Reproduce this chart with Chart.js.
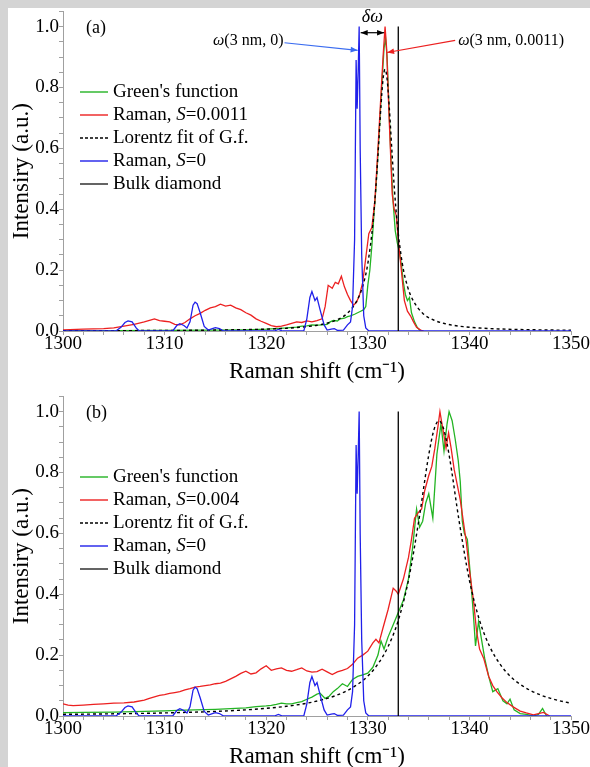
<!DOCTYPE html>
<html>
<head>
<meta charset="utf-8">
<script src="https://cdn.jsdelivr.net/npm/chart.js@4.4.1/dist/chart.umd.min.js"></script>
<style>
  html, body { margin: 0; padding: 0; }
  body { width: 590px; height: 767px; background: #d4d4d4; position: relative; overflow: hidden; }
  #sheet { position: absolute; left: 8px; top: 8px; right: 0; bottom: 0; background: #fff; }
  canvas { position: absolute; left: 0; }
  #chartA { top: 0; }
  #chartB { top: 385px; }
</style>
</head>
<body>
<div id="sheet"></div>
<canvas id="chartA" width="590" height="386"></canvas>
<canvas id="chartB" width="590" height="386"></canvas>
<script>
// tick labels
const xTickValues = [1300, 1310, 1320, 1330, 1340, 1350];
const yTickValues = [0, 0.2, 0.4, 0.6, 0.8, 1.0];

// Raman, S=0 (same in both panels)
const ramanS0_x = [1300,1305.2,1305.7,1306.1,1306.4,1306.8,1307.2,1307.5,1310.8,1311.2,1311.5,1311.9,1312.2,1312.5,1312.8,1313.0,1313.2,1313.5,1313.9,1314.3,1314.7,1315.0,1315.4,1315.8,1320.8,1321.2,1321.6,1323.7,1324.0,1324.3,1324.5,1324.8,1325.0,1325.3,1325.7,1326.0,1326.4,1326.7,1327.0,1327.6,1328.0,1328.3,1328.5,1328.7,1328.85,1328.95,1329.05,1329.15,1329.25,1329.4,1329.6,1329.8,1330.1,1350];
const ramanS0_y = [0,0,0.012,0.028,0.033,0.03,0.01,0,0,0.018,0.024,0.018,0.01,0.03,0.085,0.095,0.09,0.06,0.015,0.003,0.008,0.011,0.008,0,0,0.005,0,0,0.04,0.11,0.13,0.1,0.11,0.07,0.02,0.003,0.006,0.008,0.002,0.003,0.02,0.03,0.08,0.3,0.89,0.73,0.85,1.0,0.6,0.25,0.05,0.01,0,0];

// bulk diamond line
const bulk_x = [1333, 1333];
const bulk_y = [0, 1];

// panel (a)
const gfA_x = [1300,1305,1310,1315,1318,1320,1321,1322,1323,1323.5,1324,1324.5,1325,1325.5,1326,1326.3,1326.6,1327,1327.3,1327.7,1328,1328.3,1328.7,1329,1329.3,1329.6,1329.8,1330,1330.2,1330.4,1330.6,1330.8,1331,1331.2,1331.4,1331.6,1331.75,1331.9,1332.1,1332.3,1332.5,1332.7,1332.9,1333.1,1333.3,1333.5,1333.7,1333.9,1334.1,1334.3,1334.6,1334.9,1335.2];
const gfA_y = [0.001,0.001,0.002,0.003,0.004,0.006,0.008,0.01,0.013,0.016,0.017,0.02,0.019,0.02,0.022,0.03,0.035,0.033,0.04,0.042,0.047,0.05,0.055,0.06,0.065,0.07,0.08,0.15,0.2,0.28,0.38,0.47,0.58,0.7,0.82,0.93,0.96,0.9,0.72,0.55,0.42,0.33,0.29,0.26,0.22,0.16,0.12,0.1,0.11,0.06,0.03,0.01,0];

const ramanA_x = [1300,1302,1304,1305,1306,1307,1308,1308.6,1309,1309.5,1310,1310.5,1311,1311.5,1312,1312.5,1313,1313.5,1314,1314.5,1315,1315.5,1316,1316.5,1317,1317.5,1318,1318.5,1319,1319.5,1320,1320.5,1321,1321.5,1322,1322.5,1323,1323.5,1324,1324.5,1325,1325.5,1325.8,1326.1,1326.5,1326.8,1327.1,1327.4,1327.7,1328,1328.3,1328.6,1328.9,1329.2,1329.5,1329.8,1330.1,1330.4,1330.7,1331,1331.3,1331.5,1331.7,1331.85,1332.1,1332.4,1332.6,1332.8,1333,1333.3,1333.6,1333.9,1334.2,1334.5,1334.8,1335.2,1335.5];
const ramanA_y = [0.004,0.006,0.008,0.01,0.016,0.022,0.03,0.036,0.04,0.034,0.032,0.03,0.022,0.02,0.028,0.04,0.05,0.058,0.068,0.076,0.08,0.088,0.082,0.085,0.076,0.07,0.06,0.052,0.04,0.032,0.025,0.018,0.014,0.016,0.02,0.025,0.03,0.028,0.033,0.03,0.034,0.04,0.08,0.15,0.14,0.16,0.155,0.18,0.145,0.12,0.1,0.085,0.095,0.12,0.16,0.24,0.32,0.34,0.43,0.6,0.78,0.9,1.0,0.93,0.7,0.45,0.4,0.38,0.3,0.2,0.1,0.065,0.05,0.03,0.012,0.003,0];

const fitA_x = [1300,1305,1310,1315,1320,1322,1324,1325,1326,1327,1328,1329,1329.5,1330,1330.5,1330.8,1331,1331.3,1331.5,1331.7,1331.9,1332.1,1332.4,1332.6,1332.9,1333.4,1333.9,1334.4,1335.4,1336.4,1337.4,1338.4,1339.4,1341,1343,1345,1348,1350];
const fitA_y = [0.0009,0.0012,0.0018,0.0031,0.0062,0.009,0.0143,0.0187,0.0257,0.0372,0.0585,0.104,0.147,0.221,0.352,0.475,0.577,0.741,0.827,0.86,0.827,0.741,0.577,0.475,0.352,0.221,0.147,0.104,0.0585,0.0372,0.0257,0.0187,0.0143,0.0098,0.0067,0.0048,0.0032,0.0026];

// peak positions marked in panel (a): omega(3 nm, 0) and omega(3 nm, 0.0011)
const peakA = [1329.2, 1331.7];

// panel (b)
const gfB_x = [1300,1302,1305,1308,1310,1312,1313,1315,1317,1318,1319,1320,1320.5,1321,1321.5,1322,1322.5,1323,1323.5,1324,1324.5,1325,1325.3,1325.8,1326.2,1326.6,1327,1327.5,1328,1328.5,1329,1329.5,1330,1330.5,1331,1331.3,1331.6,1332,1332.5,1333,1333.5,1334,1334.4,1334.8,1335.1,1335.4,1335.7,1336,1336.4,1336.8,1337.2,1337.5,1337.8,1338,1338.3,1338.6,1338.9,1339.1,1339.3,1339.5,1339.8,1340.1,1340.4,1340.6,1340.9,1341.2,1341.5,1341.9,1342.3,1342.8,1343.3,1343.7,1344,1344.4,1345,1345.6,1346.3,1346.8,1347.2,1347.6];
const gfB_y = [0.011,0.012,0.013,0.015,0.017,0.019,0.02,0.022,0.025,0.027,0.031,0.033,0.035,0.038,0.042,0.04,0.04,0.044,0.047,0.055,0.062,0.072,0.075,0.058,0.065,0.08,0.09,0.106,0.097,0.12,0.13,0.135,0.141,0.16,0.2,0.246,0.22,0.26,0.3,0.34,0.38,0.45,0.55,0.68,0.62,0.64,0.7,0.73,0.65,0.86,0.96,0.87,0.96,1.0,0.97,0.91,0.84,0.77,0.64,0.6,0.58,0.46,0.33,0.23,0.31,0.25,0.19,0.13,0.08,0.09,0.05,0.04,0.055,0.02,0.008,0.005,0,0.005,0.025,0];

const ramanB_x = [1300,1300.5,1301,1302,1303,1304,1305,1306,1307,1308,1308.5,1309,1309.5,1310,1310.5,1311,1311.5,1312,1312.5,1313,1313.5,1314,1314.5,1315,1315.5,1316,1316.5,1317,1317.5,1318,1318.5,1319,1319.5,1320,1320.5,1321,1321.5,1322,1322.5,1323,1323.5,1324,1324.5,1325,1325.5,1326,1326.5,1327,1327.5,1328,1328.5,1329,1329.5,1330,1330.5,1330.8,1331.1,1331.5,1332,1332.5,1332.8,1333,1333.5,1334,1334.3,1334.6,1335,1335.3,1335.6,1336,1336.3,1336.6,1336.9,1337.1,1337.4,1337.7,1337.95,1338.2,1338.5,1338.8,1339.1,1339.4,1339.7,1340,1340.4,1340.7,1341,1341.4,1341.9,1342.3,1342.7,1343.2,1343.7,1344.3,1345,1345.6,1346.3,1346.8,1347.3,1347.9];
const ramanB_y = [0.04,0.036,0.034,0.036,0.038,0.04,0.042,0.043,0.046,0.052,0.058,0.063,0.068,0.07,0.074,0.077,0.08,0.086,0.09,0.095,0.097,0.1,0.102,0.106,0.108,0.114,0.122,0.13,0.14,0.147,0.138,0.142,0.155,0.165,0.15,0.155,0.158,0.15,0.147,0.152,0.158,0.148,0.144,0.146,0.154,0.145,0.136,0.145,0.15,0.156,0.17,0.19,0.2,0.213,0.24,0.252,0.24,0.29,0.35,0.42,0.41,0.4,0.45,0.52,0.58,0.65,0.67,0.68,0.74,0.79,0.82,0.88,0.95,1.0,0.94,0.88,0.93,0.88,0.81,0.76,0.71,0.64,0.57,0.48,0.38,0.28,0.22,0.19,0.13,0.1,0.08,0.06,0.044,0.03,0.016,0.01,0.004,0.008,0.012,0];

const fitB_x = [1300,1305,1310,1315,1318,1320,1322,1324,1326,1327,1328,1329,1330,1331,1332,1333,1334,1335,1336,1336.5,1337,1337.5,1338,1339,1340,1341,1342,1343,1344,1345,1346,1347,1348,1349,1350];
const fitB_y = [0.0054,0.0072,0.0101,0.0151,0.0202,0.0251,0.032,0.0419,0.0579,0.0691,0.0839,0.104,0.131,0.171,0.228,0.314,0.446,0.638,0.858,0.939,0.97,0.939,0.858,0.638,0.446,0.314,0.228,0.171,0.131,0.104,0.0839,0.0691,0.0579,0.049,0.0419];

const SERIF = "'Liberation Serif', 'Times New Roman', serif";
const GREEN = '#23b423', RED = '#ec2020', BLUE = '#2020ea', AXIS = '#a0a0a0';
Chart.defaults.font.family = SERIF;
Chart.defaults.color = '#000';

function pts(xs, ys) { return xs.map((x, i) => ({ x: x, y: ys[i] })); }

function series(label, xs, ys, color, extra) {
  return Object.assign({
    label: label, data: pts(xs, ys), borderColor: color, borderWidth: 1.3,
    pointRadius: 0, tension: 0, fill: false
  }, extra || {});
}

// draw text made of plain/italic pieces, returns nothing
function richText(ctx, parts, x, y, size, align) {
  const font = p => (p.italic ? 'italic ' : '') + size + 'px ' + SERIF;
  let total = 0;
  parts.forEach(p => { ctx.font = font(p); total += ctx.measureText(p.text).width; });
  if (align === 'right') x -= total;
  if (align === 'center') x -= total / 2;
  parts.forEach(p => {
    ctx.font = font(p);
    ctx.fillText(p.text, x, y);
    x += ctx.measureText(p.text).width;
  });
}

function arrowHead(ctx, x1, y1, x2, y2) {
  const a = Math.atan2(y2 - y1, x2 - x1), L = 7, W = 2.8;
  ctx.beginPath();
  ctx.moveTo(x2, y2);
  ctx.lineTo(x2 - L * Math.cos(a) + W * Math.sin(a), y2 - L * Math.sin(a) - W * Math.cos(a));
  ctx.lineTo(x2 - L * Math.cos(a) - W * Math.sin(a), y2 - L * Math.sin(a) + W * Math.cos(a));
  ctx.closePath();
  ctx.fill();
}

function arrow(ctx, x1, y1, x2, y2, color, both) {
  ctx.strokeStyle = color; ctx.fillStyle = color; ctx.lineWidth = 1.2;
  ctx.beginPath(); ctx.moveTo(x1, y1); ctx.lineTo(x2, y2); ctx.stroke();
  arrowHead(ctx, x1, y1, x2, y2);
  if (both) arrowHead(ctx, x2, y2, x1, y1);
}

// legend sits inside the plot like in the paper figure
const insideLegend = {
  id: 'insideLegend',
  afterDraw(chart, args, opts) {
    const ctx = chart.ctx;
    ctx.save();
    ctx.textBaseline = 'middle';
    opts.rows.forEach((row, i) => {
      const y = opts.top + i * 23;
      ctx.strokeStyle = row.color; ctx.lineWidth = 1.4;
      ctx.setLineDash(row.dash || []);
      ctx.beginPath(); ctx.moveTo(80, y); ctx.lineTo(108, y); ctx.stroke();
      ctx.setLineDash([]);
      ctx.fillStyle = '#000';
      richText(ctx, row.parts, 113, y, 19, 'left');
    });
    ctx.fillStyle = '#000';
    richText(ctx, [{ text: opts.tag }], 86, 28, 18, 'left');
    ctx.restore();
  }
};

// peak shift annotation for panel (a)
const peakNotes = {
  id: 'peakNotes',
  afterDatasetsDraw(chart, args, opts) {
    if (!opts.peaks) return;
    const { ctx, scales: { x, y } } = chart;
    const X = v => x.getPixelForValue(v), Y = v => y.getPixelForValue(v);
    const [p0, p1] = opts.peaks;
    ctx.save();
    ctx.textBaseline = 'middle';
    arrow(ctx, X(p0) + 1, Y(0.98), X(p1) - 1, Y(0.98), '#000', true);
    ctx.fillStyle = '#000';
    richText(ctx, [{ text: 'δω', italic: true }], X((p0 + p1) / 2), Y(1.03), 18, 'center');

    richText(ctx, [{ text: 'ω', italic: true }, { text: '(3 nm, 0)' }], X(1321.7), Y(0.952), 16, 'right');
    arrow(ctx, X(1321.8), Y(0.947), X(p0 - 0.2), Y(0.922), '#3a6cf0', false);

    ctx.fillStyle = '#000';
    richText(ctx, [{ text: 'ω', italic: true }, { text: '(3 nm, 0.0011)' }], X(1338.9), Y(0.955), 16, 'left');
    arrow(ctx, X(1338.6), Y(0.955), X(p1 + 0.2), Y(0.915), RED, false);
    ctx.restore();
  }
};

function makeChart(id, datasets, legendRows, tag, peaks) {
  return new Chart(document.getElementById(id), {
    type: 'line',
    data: { datasets: datasets },
    plugins: [insideLegend, peakNotes],
    options: {
      responsive: false,
      maintainAspectRatio: false,
      animation: false,
      layout: { padding: { top: 11, right: 19, left: 0, bottom: 0 } },
      plugins: {
        legend: { display: false },
        tooltip: { enabled: false },
        insideLegend: { rows: legendRows, top: 92, tag: tag },
        peakNotes: { peaks: peaks }
      },
      scales: {
        x: {
          type: 'linear', min: 1300, max: 1350,
          afterFit: s => { s.height = 55; },
          border: { color: AXIS, width: 1 },
          grid: { drawOnChartArea: false, tickLength: 4, color: AXIS },
          ticks: {
            stepSize: 2, autoSkip: false, maxRotation: 0, padding: -2,
            font: { size: 19 },
            callback: v => xTickValues.includes(v) ? String(v) : ''
          },
          title: { display: true, text: 'Raman shift (cm⁻¹)', font: { size: 23 }, padding: { top: 0, bottom: 0 } }
        },
        y: {
          type: 'linear', min: 0, max: 1.05,
          afterFit: s => { s.width = 63; },
          border: { color: AXIS, width: 1 },
          grid: { drawOnChartArea: false, tickLength: 4, color: AXIS },
          ticks: {
            stepSize: 0.05, autoSkip: false, padding: 0,
            font: { size: 19 },
            callback: v => {
              const t = yTickValues.find(k => Math.abs(k - v) < 1e-6);
              return t === undefined ? '' : t.toFixed(1);
            }
          },
          title: { display: true, text: 'Intensiry (a.u.)', font: { size: 23 }, padding: { top: 8, bottom: 0 } }
        }
      }
    }
  });
}

function legendFor(sValue) {
  return [
    { color: GREEN, parts: [{ text: "Green's function" }] },
    { color: RED, parts: [{ text: 'Raman, ' }, { text: 'S', italic: true }, { text: '=' + sValue }] },
    { color: '#000', dash: [3, 2], parts: [{ text: 'Lorentz fit of G.f.' }] },
    { color: BLUE, parts: [{ text: 'Raman, ' }, { text: 'S', italic: true }, { text: '=0' }] },
    { color: '#222', parts: [{ text: 'Bulk diamond' }] }
  ];
}

const dashed = { borderDash: [3, 3], borderWidth: 1.4, cubicInterpolationMode: 'monotone' };

makeChart('chartA', [
  series('Bulk diamond', bulk_x, bulk_y, '#000'),
  series('Raman, S=0', ramanS0_x, ramanS0_y, BLUE),
  series('Lorentz fit of G.f.', fitA_x, fitA_y, '#000', dashed),
  series('Raman, S=0.0011', ramanA_x, ramanA_y, RED),
  series("Green's function", gfA_x, gfA_y, GREEN)
], legendFor('0.0011'), '(a)', peakA);

makeChart('chartB', [
  series('Bulk diamond', bulk_x, bulk_y, '#000'),
  series('Raman, S=0', ramanS0_x, ramanS0_y, BLUE),
  series('Lorentz fit of G.f.', fitB_x, fitB_y, '#000', dashed),
  series('Raman, S=0.004', ramanB_x, ramanB_y, RED),
  series("Green's function", gfB_x, gfB_y, GREEN)
], legendFor('0.004'), '(b)', null);
</script>
</body>
</html>
